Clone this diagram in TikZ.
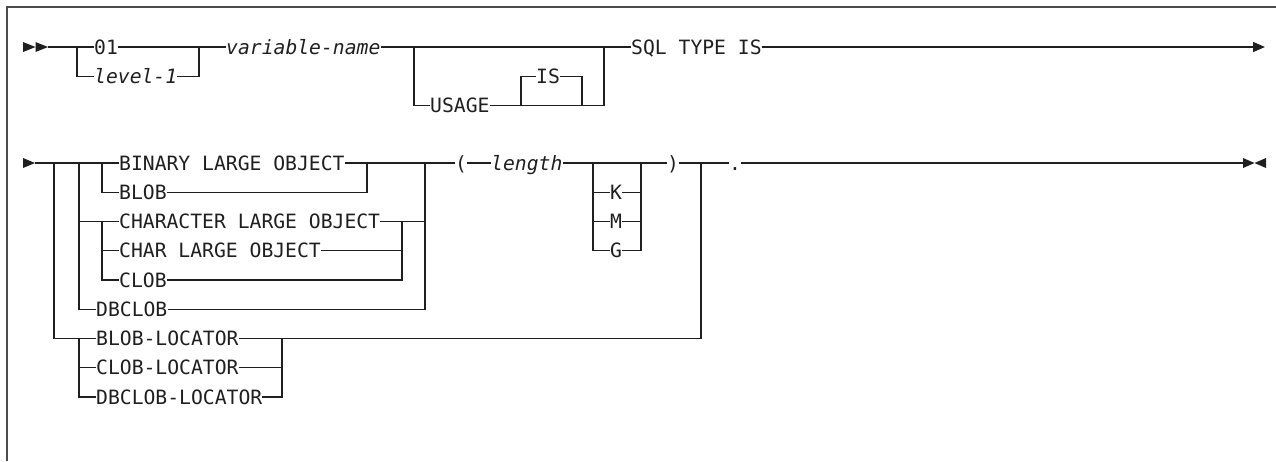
\documentclass[tikz,border=0pt]{standalone}
\usepackage{fontspec}
\setmonofont{DejaVu Sans Mono}
\usetikzlibrary{arrows.meta}
\newcommand\diagfont{\fontsize{19.7pt}{22pt}\selectfont\ttfamily}
\tikzset{
  ln/.style={line width=1.3pt, draw=black!88},
  kw/.style={font=\diagfont, inner sep=0pt, anchor=west, text height=14.4pt, text depth=0pt, text=black!88},
  it/.style={kw, font=\diagfont\itshape},
  tip/.style={fill=black!88},
  frame/.style={line width=1.6pt, draw=black!70}
}
\begin{document}
\begin{tikzpicture}[x=1pt,y=-1pt]
\useasboundingbox (0,0) rectangle (1276,461);
\draw[frame] (7,461) -- (7,7) -- (1276,7);

% ---------------- Row 1 ----------------
\fill[tip] (23,42) -- (35.5,47) -- (23,52) -- cycle;
\fill[tip] (35.5,42) -- (48,47) -- (35.5,52) -- cycle;
\coordinate (s1) at (48,47);
\coordinate (j1a) at (77,47);
\coordinate (j1b) at (199,47);
\node[kw] (n01) at (94,47) {01};
\node[it] (lvl) at (94,76.25) {level-1};
\draw[ln] (s1) -- (n01.west);
\draw[ln] (j1a) |- (lvl.west);
\draw[ln] (n01.east) -- (j1b);
\draw[ln] (lvl.east) -| (j1b);

\node[it] (var) at (226,47) {variable-name};
\draw[ln] (j1b) -- (var.west);

\coordinate (j2a) at (414,47);
\coordinate (j2b) at (604,47);
\coordinate (j3a) at (521,105.5);
\coordinate (j3b) at (582,105.5);
\node[kw] (usage) at (430,105.5) {USAGE};
\node[kw] (is) at (536,76.25) {IS};
\draw[ln] (var.east) -- (j2a) -- (j2b);
\draw[ln] (j2a) |- (usage.west);
\draw[ln] (usage.east) -- (j3a) -- (j3b);
\draw[ln] (j3a) |- (is.west);
\draw[ln] (is.east) -| (j3b);
\draw[ln] (j3b) -| (j2b);

\node[kw] (sql) at (631,47) {SQL TYPE IS};
\coordinate (e1) at (1265,47);
\draw[ln] (j2b) -- (sql.west);
\draw[ln,-{Triangle[length=12pt,width=10pt]}] (sql.east) -- (e1);

% ---------------- Row 2 ----------------
\fill[tip] (23,158) -- (35,163) -- (23,168) -- cycle;
\coordinate (s2) at (35,163);
\coordinate (c1) at (54,163);
\coordinate (c2) at (79,163);
\coordinate (c3) at (102,163);
\coordinate (r1) at (367,163);
\coordinate (r2) at (402,221.5);
\coordinate (r3) at (425,163);
\coordinate (rl) at (282,338.5);
\coordinate (rr) at (701,163);

\node[kw] (binary) at (119,163) {BINARY LARGE OBJECT};
\node[kw] (blob)   at (119,192.25) {BLOB};
\node[kw] (character) at (119,221.5) {CHARACTER LARGE OBJECT};
\node[kw] (charlo) at (119,250.75) {CHAR LARGE OBJECT};
\node[kw] (clob)   at (119,280) {CLOB};
\node[kw] (dbclob) at (96,309.25) {DBCLOB};
\node[kw] (bloc)   at (96,338.5) {BLOB-LOCATOR};
\node[kw] (cloc)   at (96,367.75) {CLOB-LOCATOR};
\node[kw] (dbloc)  at (96,397) {DBCLOB-LOCATOR};

\draw[ln] (s2) -- (binary.west);
% BINARY / BLOB
\draw[ln] (c3) |- (blob.west);
\draw[ln] (binary.east) -- (r1);
\draw[ln] (blob.east) -| (r1);
\draw[ln] (r1) -- (r3);
% CHARACTER group
\draw[ln] (c2 |- character.west) -- (character.west);
\draw[ln] (c3 |- character.west) |- (clob.west);
\draw[ln] (c3 |- charlo.west) -- (charlo.west);
\draw[ln] (character.east) -- (r2) -- (r3 |- r2);
\draw[ln] (charlo.east) -- (r2 |- charlo.west);
\draw[ln] (clob.east) -| (r2);
% DBCLOB
\draw[ln] (c2) |- (dbclob.west);
\draw[ln] (dbclob.east) -| (r3);
% LOCATORS
\draw[ln] (c1) |- (bloc.west);
\draw[ln] (c2 |- bloc.west) |- (dbloc.west);
\draw[ln] (c2 |- cloc.west) -- (cloc.west);
\draw[ln] (bloc.east) -- (rl) -- (rr |- rl) -- (rr);
\draw[ln] (cloc.east) -- (rl |- cloc.west);
\draw[ln] (dbloc.east) -| (rl);

% ( length [K|M|G] )
\node[kw] (lp) at (455,163) {(};
\node[it] (len) at (491,163) {length};
\coordinate (k1) at (593,163);
\coordinate (k2) at (641,163);
\node[kw] (kk) at (610,192.25) {K};
\node[kw] (mm) at (610,221.5) {M};
\node[kw] (gg) at (610,250.75) {G};
\node[kw] (rp) at (667,163) {)};
\node[kw] (dot) at (729,163) {.};
\coordinate (e2) at (1243,163);

\draw[ln] (r3) -- (lp.west);
\draw[ln] (lp.east) -- (len.west);
\draw[ln] (len.east) -- (k1) -- (k2) -- (rp.west);
\draw[ln] (k1 |- kk.west) -- (kk.west);
\draw[ln] (k1 |- mm.west) -- (mm.west);
\draw[ln] (k1) |- (gg.west);
\draw[ln] (kk.east) -- (k2 |- kk.west);
\draw[ln] (mm.east) -- (k2 |- mm.west);
\draw[ln] (gg.east) -| (k2);
\draw[ln] (rp.east) -- (rr) -- (dot.west);
\draw[ln] (dot.east) -- (e2);
\fill[tip] (1243,158) -- (1254.5,163) -- (1243,168) -- cycle;
\fill[tip] (1266,158) -- (1254.5,163) -- (1266,168) -- cycle;
\end{tikzpicture}
\end{document}
